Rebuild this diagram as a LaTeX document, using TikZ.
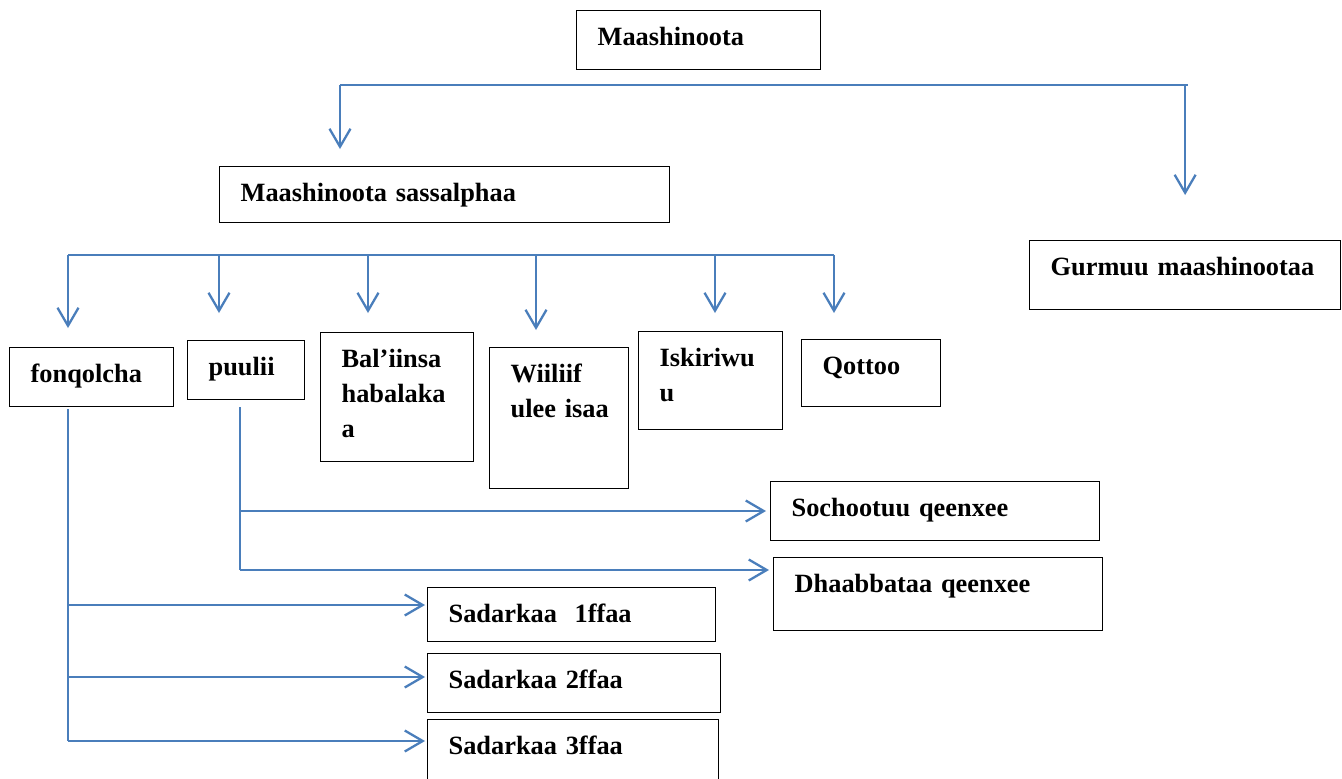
\documentclass[tikz,border=0pt]{standalone}
\usepackage{fontspec}
\setmainfont{Liberation Serif}
\usepackage{tikz}
\usetikzlibrary{arrows.meta}
\definecolor{linkblue}{RGB}{74,126,187}
\tikzstyle{blk} = [draw,line width=0.75pt,anchor=north west,align=left,
    inner xsep=0.42cm,inner ysep=0pt,text height=0.7cm,
    font=\bfseries\fontsize{15}{20}\selectfont
]
\tikzstyle{link} = [draw=linkblue,line width=1.3pt]
\tikzstyle{tolink} = [link,-{Straight Barb[length=0.36cm,width=0.42cm]}]
\begin{document}
\begin{tikzpicture}[x=0.02cm,y=-0.02cm]
	\path[fill=white,use as bounding box] (0,0) rectangle (1342,778);

	\node(top) at (576,10) [blk,text width=4.04cm,text depth=0.48cm] {Maashinoota};
	\node(sas) at (219,166) [blk,text width=8.16cm,text depth=0.42cm] {Maashinoota~sassalphaa};
	\node(gur) at (1029,240) [blk,text width=5.38cm,text depth=0.68cm] {Gurmuu~maashinootaa};

	\node(fonq) at (9,347) [blk,text width=2.44cm,text depth=0.48cm] {fonqolcha};
	\node(puul) at (187,340) [blk,text width=1.5cm,text depth=0.48cm] {puulii};
	\node(bal) at (320,332) [blk,text width=2.22cm,text depth=1.88cm] {Bal’iinsa\\habalaka\\a};
	\node(wiil) at (489,347) [blk,text width=1.94cm,text depth=2.12cm] {Wiiliif\\ulee~isaa};
	\node(isk) at (638,331) [blk,text width=2.04cm,text depth=1.26cm] {Iskiriwu\\u};
	\node(qot) at (801,339) [blk,text width=1.94cm,text depth=0.64cm] {Qottoo};

	\node(soch) at (770,481) [blk,text width=5.74cm,text depth=0.48cm] {Sochootuu~qeenxee};
	\node(dhaa) at (773,557) [blk,text width=5.74cm,text depth=0.76cm] {Dhaabbataa~qeenxee};

	\node(sad1) at (427,587) [blk,text width=4.92cm,text depth=0.38cm] {Sadarkaa~~1ffaa};
	\node(sad2) at (427,653) [blk,text width=5.02cm,text depth=0.48cm] {Sadarkaa~2ffaa};
	\node(sad3) at (427,719) [blk,text width=4.98cm,text depth=0.6cm] {Sadarkaa~3ffaa};

	% first level
	\coordinate (topL) at (340,85);
	\coordinate (topR) at (1188,85);
	\draw[link] (topL) -- (topR);
	\draw[tolink,shorten >=0.34cm] (topL) -- (topL |- sas.north);
	\draw[tolink,shorten >=0.9cm] (topR -| gur.north) -- (gur.north);

	% second level
	\foreach \x [count=\i] in {68,219,368,536,715,834}
		\coordinate (drop\i) at (\x,255);
	\draw[link] (drop1) -- (drop6);
	\foreach \n/\g [count=\i] in {fonq/0.38,puul/0.54,bal/0.38,wiil/0.34,isk/0.36,qot/0.52}
		\draw[tolink,shorten >=\g cm] (drop\i) -- (drop\i |- \n.north);

	% fonqolcha
	\coordinate (fq1) at (68,605);
	\coordinate (fq2) at (68,677);
	\coordinate (fq3) at (68,741);
	\draw[link,shorten <=0.04cm] (fq3 |- fonq.south) -- (fq3);
	\foreach \i in {1,2,3}
		\draw[tolink,shorten >=0.04cm] (fq\i) -- (fq\i -| sad\i.west);

	% puulii
	\coordinate (pl1) at (240,511);
	\coordinate (pl2) at (240,570);
	\draw[link,shorten <=0.14cm] (pl1 |- puul.south) -- (pl2);
	\draw[tolink,shorten >=0.08cm] (pl1) -- (pl1 -| soch.west);
	\draw[tolink,shorten >=0.08cm] (pl2) -- (pl2 -| dhaa.west);
\end{tikzpicture}
\end{document}
